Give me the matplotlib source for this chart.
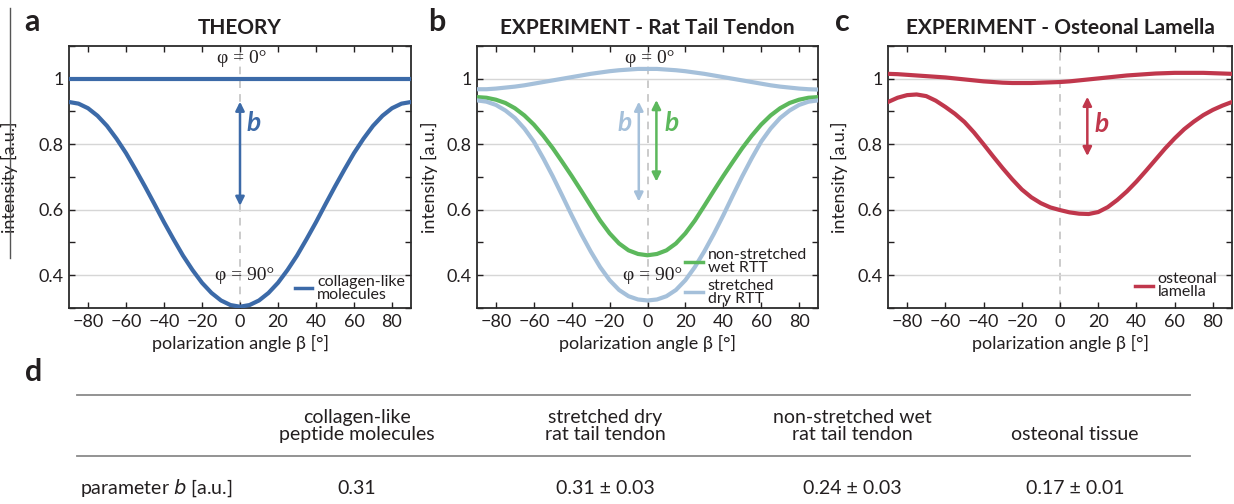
import numpy as np
import matplotlib
matplotlib.use("Agg")
import matplotlib.pyplot as plt
from matplotlib.ticker import MultipleLocator, FixedLocator
from matplotlib.lines import Line2D

plt.rcParams['font.family'] = ['Lato', 'DejaVu Sans']

# polarization angle, read every 5 degrees
beta = [-90, -85, -80, -75, -70, -65, -60, -55, -50, -45, -40, -35, -30, -25, -20, -15, -10, -5, 0,
        5, 10, 15, 20, 25, 30, 35, 40, 45, 50, 55, 60, 65, 70, 75, 80, 85, 90]

# a - theory
theory_top = [1.0] * 37
theory_low = [0.929, 0.924, 0.910, 0.887, 0.856, 0.817, 0.773, 0.723, 0.671, 0.617, 0.562, 0.510, 0.460,
              0.416, 0.377, 0.346, 0.323, 0.309, 0.304,
              0.309, 0.323, 0.346, 0.377, 0.416, 0.460, 0.510, 0.562, 0.617, 0.671, 0.723, 0.773, 0.817,
              0.856, 0.887, 0.910, 0.924, 0.929]

# b - rat tail tendon
dry_top = [0.968, 0.968, 0.970, 0.973, 0.976, 0.980, 0.985, 0.990, 0.995, 1.000, 1.005, 1.010, 1.015,
           1.019, 1.023, 1.026, 1.028, 1.030, 1.030,
           1.030, 1.028, 1.026, 1.023, 1.019, 1.015, 1.010, 1.005, 1.000, 0.995, 0.990, 0.985, 0.980,
           0.976, 0.973, 0.970, 0.968, 0.967]
dry_low = [0.934, 0.930, 0.920, 0.903, 0.880, 0.848, 0.808, 0.757, 0.702, 0.643, 0.583, 0.526, 0.473,
           0.425, 0.385, 0.355, 0.336, 0.326, 0.323,
           0.326, 0.336, 0.355, 0.385, 0.425, 0.473, 0.526, 0.583, 0.643, 0.702, 0.757, 0.808, 0.848,
           0.880, 0.903, 0.920, 0.930, 0.934]
wet_low = [0.944, 0.942, 0.936, 0.926, 0.910, 0.888, 0.860, 0.826, 0.788, 0.746, 0.703, 0.658, 0.612,
           0.567, 0.528, 0.497, 0.476, 0.465, 0.461,
           0.465, 0.476, 0.497, 0.528, 0.567, 0.612, 0.658, 0.703, 0.746, 0.788, 0.826, 0.860, 0.888,
           0.910, 0.926, 0.936, 0.942, 0.944]

# c - osteonal lamella
ost_top = [1.015, 1.014, 1.012, 1.010, 1.008, 1.006, 1.004, 1.001, 0.998, 0.995, 0.992, 0.990, 0.988,
           0.987, 0.987, 0.987, 0.988, 0.989, 0.990,
           0.992, 0.995, 0.998, 1.001, 1.004, 1.007, 1.010, 1.012, 1.014, 1.016, 1.017, 1.018, 1.018,
           1.018, 1.018, 1.017, 1.016, 1.015]
ost_low = [0.929, 0.942, 0.950, 0.952, 0.947, 0.933, 0.914, 0.893, 0.868, 0.836, 0.800, 0.763, 0.727,
           0.693, 0.662, 0.638, 0.620, 0.607, 0.599,
           0.592, 0.588, 0.587, 0.593, 0.608, 0.630, 0.656, 0.686, 0.719, 0.753, 0.787, 0.818, 0.846,
           0.869, 0.889, 0.905, 0.918, 0.929]

# d - table
table_cols = ['collagen-like\npeptide molecules', 'stretched dry\nrat tail tendon',
              'non-stretched wet\nrat tail tendon', 'osteonal tissue']
table_vals = ['0.31', '0.31 ± 0.03', '0.24 ± 0.03', '0.17 ± 0.01']

BLUE = '#3c6aa8'
GREEN = '#5cb85c'
LBLUE = '#a5c0da'
RED = '#c0374c'
TXT = '#231f20'

W, H = 1234, 504
fig = plt.figure(figsize=(W / 100, H / 100), dpi=100)


def px(x, y):
    return x / W, 1 - y / H


def make_ax(left, right, top=46, bottom=308):
    ax = fig.add_axes([left / W, 1 - bottom / H, (right - left) / W, (bottom - top) / H])
    ax.set_xlim(-90, 90)
    ax.set_ylim(0.3, 1.1)
    ax.xaxis.set_major_locator(FixedLocator([-80, -60, -40, -20, 0, 20, 40, 60, 80]))
    ax.yaxis.set_major_locator(FixedLocator([0.4, 0.6, 0.8, 1.0]))
    ax.yaxis.set_minor_locator(MultipleLocator(0.1))
    ax.set_yticklabels(['0.4', '0.6', '0.8', '1'])
    ax.tick_params(which='both', direction='in', top=True, right=True, length=4, width=1,
                   labelsize=13, colors=TXT, pad=4)
    ax.grid(axis='y', which='major', color='#d6d6d6', lw=1, zorder=0)
    ax.axvline(0, color='#bdbdbd', lw=1.1, ls=(0, (5, 4)), zorder=1)
    for s in ax.spines.values():
        s.set_linewidth(1.3)
        s.set_color('#2b2b2b')
    ax.set_xlabel('polarization angle β [°]', fontsize=13, color=TXT, labelpad=4)
    ax.set_ylabel('intensity [a.u.]', fontsize=13, color=TXT)
    return ax


def arrow(ax, x, y0, y1, color):
    ax.annotate('', xy=(x, y0), xytext=(x, y1),
                arrowprops=dict(arrowstyle='<|-|>', color=color, lw=1.8, mutation_scale=13,
                                shrinkA=0, shrinkB=0), zorder=4)


def phi_labels(ax):
    ax.text(1, 1.062, 'φ = 0°', ha='center', va='center', fontsize=14,
            family='Liberation Serif', color=TXT, zorder=5)
    ax.text(2.5, 0.399, 'φ = 90°', ha='center', va='center', fontsize=14,
            family='Liberation Serif', color=TXT, zorder=5)


lw = 3.0

# ---- a
ax1 = make_ax(69, 411)
ax1.plot(beta, theory_top, color=BLUE, lw=lw, zorder=3)
ax1.plot(beta, theory_low, color=BLUE, lw=lw, zorder=3, label='collagen-like\nmolecules')
arrow(ax1, 0, 0.93, 0.612, BLUE)
ax1.text(7, 0.866, 'b', color=BLUE, fontsize=19, style='italic', fontweight='bold', ha='center', va='center')
phi_labels(ax1)
ax1.yaxis.set_label_coords(-0.148, 0.5)
ax1.set_title('THEORY', fontsize=15, fontweight='bold', color=TXT, pad=9)

# ---- b
ax2 = make_ax(477, 818)
ax2.plot(beta, dry_top, color=LBLUE, lw=lw, zorder=3)
ax2.plot(beta, wet_low, color=GREEN, lw=lw, zorder=3, label='non-stretched\nwet RTT')
ax2.plot(beta, dry_low, color=LBLUE, lw=lw, zorder=3, label='stretched\ndry RTT')
arrow(ax2, -4.6, 0.93, 0.625, LBLUE)
arrow(ax2, 4.7, 0.935, 0.686, GREEN)
ax2.text(-12, 0.866, 'b', color=LBLUE, fontsize=19, style='italic', fontweight='bold', ha='center', va='center')
ax2.text(12.5, 0.866, 'b', color=GREEN, fontsize=19, style='italic', fontweight='bold', ha='center', va='center')
phi_labels(ax2)
ax2.yaxis.set_label_coords(-0.114, 0.5)
ax2.set_title('EXPERIMENT - Rat Tail Tendon', fontsize=15, fontweight='bold', color=TXT, pad=9)

# ---- c
ax3 = make_ax(888, 1232)
ax3.plot(beta, ost_top, color=RED, lw=lw, zorder=3)
ax3.plot(beta, ost_low, color=RED, lw=lw, zorder=3, label='osteonal\nlamella')
arrow(ax3, 14.3, 0.945, 0.764, RED)
ax3.text(22, 0.862, 'b', color=RED, fontsize=19, style='italic', fontweight='bold', ha='center', va='center')
ax3.yaxis.set_label_coords(-0.116, 0.5)
ax3.set_title('EXPERIMENT - Osteonal Lamella', fontsize=15, fontweight='bold', color=TXT, pad=9)

for ax, anchor in [(ax1, (1.015, -0.02)), (ax2, (1.0, -0.035)), (ax3, (0.99, -0.01))]:
    leg = ax.legend(loc='lower right', bbox_to_anchor=anchor, frameon=False, fontsize=11.5,
                    handlelength=1.1, handletextpad=0.3, labelspacing=0.2, borderpad=0.2)
    for t in leg.get_texts():
        t.set_color(TXT)
        t.set_linespacing(0.95)
    for h in leg.legend_handles:
        h.set_linewidth(2.5)

# panel letters
for letter, x, y in [('a', 32, 22), ('b', 437, 22), ('c', 842, 22), ('d', 34, 372)]:
    fig.text(*px(x, y), letter, fontsize=22, fontweight='bold', color=TXT, ha='center', va='center')

# stray vertical rule at the far left
fig.add_artist(Line2D([10 / W, 10 / W], [1 - 8 / H, 1 - 258 / H], color='#555555', lw=1))

# ---- d table
for yl in [395, 456]:
    fig.add_artist(Line2D([77 / W, 1190 / W], [1 - yl / H, 1 - yl / H], color='#8a8a8a', lw=1.3))
col_x = [357, 605, 852, 1075]
for cx, head, val in zip(col_x, table_cols, table_vals):
    fig.text(*px(cx, 443), head, fontsize=14, color=TXT, ha='center', va='bottom', linespacing=1.0)
    fig.text(*px(cx, 488), val, fontsize=14, color=TXT, ha='center', va='center')
fig.text(*px(80, 488), 'parameter $\\mathit{b}$ [a.u.]', fontsize=14, color=TXT, ha='left', va='center')

fig.savefig('out.png', dpi=100)
